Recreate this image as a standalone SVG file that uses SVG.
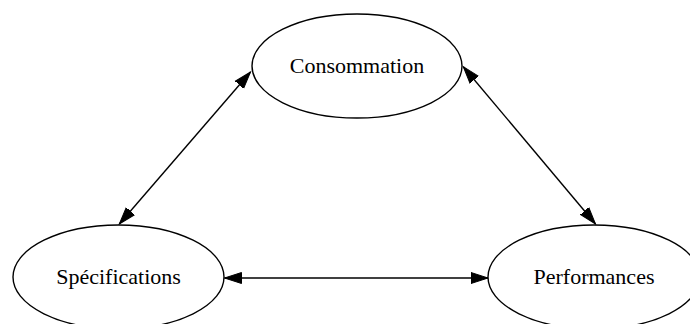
<svg xmlns="http://www.w3.org/2000/svg" width="690" height="324" viewBox="0 0 690 324">
<style>
.node ellipse{fill:none;stroke:#000;stroke-width:1.4}
.node text{font-family:"Liberation Serif","Times New Roman",serif;font-size:22px;fill:#000;text-anchor:middle}
.edge{stroke:#000;stroke-width:1.4;fill:none;marker-start:url(#ah);marker-end:url(#ah)}
</style>
<defs>
<marker id="ah" markerUnits="userSpaceOnUse" markerWidth="20" markerHeight="14" viewBox="0 -7 20 14" refX="17" refY="0" orient="auto-start-reverse">
<path d="M0,-5.5 L17,0 L0,5.5 z" fill="#000" stroke="#000" stroke-width="1"/>
</marker>
</defs>
<rect width="690" height="324" fill="#fff"/>
<g id="connectors">
<line class="edge" x1="119.3" y1="224" x2="250.5" y2="72"/>
<line class="edge" x1="463.3" y1="66.7" x2="595.5" y2="224"/>
<line class="edge" x1="224.5" y1="278" x2="488" y2="278"/>
</g>
<g id="consommation" class="node">
<ellipse cx="357" cy="66" rx="105" ry="52"/>
<text x="357" y="73">Consommation</text>
</g>
<g id="specifications" class="node">
<ellipse cx="118.5" cy="277" rx="105.5" ry="52"/>
<text x="118.5" y="284">Spécifications</text>
</g>
<g id="performances" class="node">
<ellipse cx="594" cy="277" rx="106" ry="52"/>
<text x="594" y="284">Performances</text>
</g>
</svg>
